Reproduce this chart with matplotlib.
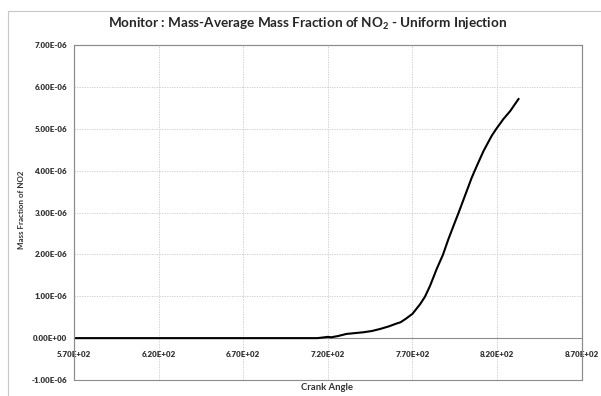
import numpy as np
import matplotlib
matplotlib.use("Agg")
import matplotlib.pyplot as plt
from matplotlib.patches import Rectangle
from matplotlib.ticker import FuncFormatter

plt.rcParams['font.family'] = ['Lato', 'DejaVu Sans']
plt.rcParams['mathtext.fontset'] = 'custom'
plt.rcParams['mathtext.rm'] = 'Lato:bold'
plt.rcParams['mathtext.bf'] = 'Lato:bold'

# crank angle (deg) and mass-average NO2 mass fraction (x1e-6)
crank_angle = [570, 600, 650, 700, 714, 718, 720, 722, 726, 731, 736, 741, 746,
               751, 756, 760, 763, 766, 770, 774.5, 777.4, 780.4, 784.3, 788,
               791.2, 795, 797.5, 800, 805, 808, 812, 816.8, 819.4, 823.7,
               827.7, 833]
no2_frac_e6 = [0.0, 0.0, 0.0, 0.0, 0.0, 0.02, 0.03, 0.02, 0.05, 0.10, 0.12, 0.14,
               0.17, 0.22, 0.28, 0.34, 0.38, 0.46, 0.58, 0.81, 0.99, 1.25, 1.65,
               1.99, 2.36, 2.76, 3.02, 3.29, 3.83, 4.11, 4.47, 4.83, 4.99, 5.23,
               5.42, 5.73]

x_ticks = [570, 620, 670, 720, 770, 820, 870]
y_ticks = [-1e-6, 0, 1e-6, 2e-6, 3e-6, 4e-6, 5e-6, 6e-6, 7e-6]

gray = '#8c8c8c'
txt = '#333333'

fig = plt.figure(figsize=(6.01, 3.96), dpi=100)
# chart area border
fig.patches.append(Rectangle((8 / 601, -0.1), 1.0, 1 - 11 / 396 + 0.1,
                             transform=fig.transFigure, fill=False,
                             edgecolor='#c8c8c8', linewidth=0.8))

ax = fig.add_axes([74 / 601, 16 / 396, (581.7 - 74) / 601, (380 - 45) / 396])

y = np.array(no2_frac_e6) * 1e-6
ax.plot(crank_angle, y, color='black', linewidth=1.5, solid_capstyle='butt',
        solid_joinstyle='round', zorder=3)

ax.set_xlim(570, 870)
ax.set_ylim(-1e-6, 7e-6)
ax.set_xticks(x_ticks)
ax.set_yticks(y_ticks)


def sci_fmt(v, pos):
    return f"{v:.2E}"


ax.xaxis.set_major_formatter(FuncFormatter(sci_fmt))
ax.yaxis.set_major_formatter(FuncFormatter(sci_fmt))

ax.grid(True, color='#c8c8c8', linestyle=(0, (1.5, 1.5)), linewidth=0.6)
ax.set_axisbelow(True)

for s in ['top', 'right', 'left']:
    ax.spines[s].set_color(gray)
    ax.spines[s].set_linewidth(0.8)
ax.spines['bottom'].set_position(('data', 0))
ax.spines['bottom'].set_color(gray)
ax.spines['bottom'].set_linewidth(0.8)
ax.add_patch(Rectangle((0, 0), 1, 1, transform=ax.transAxes, fill=False,
                       edgecolor=gray, linewidth=0.8, clip_on=False, zorder=4))

ax.tick_params(axis='both', length=0, labelsize=5.8, colors=txt)
ax.tick_params(axis='x', pad=9)
ax.tick_params(axis='y', pad=5)
for lab in ax.get_xticklabels() + ax.get_yticklabels():
    lab.set_fontweight('heavy')

fig.text(307 / 601, 1 - 24 / 396,
         r"Monitor : Mass-Average Mass Fraction of NO$_\mathbf{2}$ - Uniform Injection",
         ha='center', va='center', fontsize=9.7, fontweight='bold', color='#262626')
fig.text(327 / 601, 1 - 388 / 396, "Crank Angle", ha='center', va='center',
         fontsize=6.8, fontweight='bold', color=txt)
fig.text(22 / 601, 1 - 210 / 396, "Mass Fraction of NO2", ha='center', va='center',
         rotation=90, fontsize=5.8, fontweight='bold', color=txt)

fig.savefig('out.png', dpi=100)
